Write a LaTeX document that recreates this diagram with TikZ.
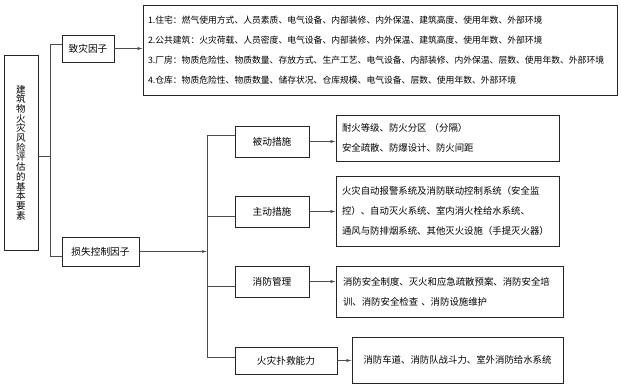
\documentclass[tikz,border=0pt]{standalone}
\usepackage{fontspec}
\setmainfont{Noto Sans CJK SC}
\usetikzlibrary{arrows.meta}
\begin{document}
\begin{tikzpicture}[x=1pt,y=-1pt,
  box/.style={draw=black!85, line width=0.6pt, inner sep=0pt},
  lbl/.style={box, font=\fontsize{9.7}{11}\selectfont, align=center},
  txt/.style={box, font=\fontsize{9.4}{20}\selectfont, align=left},
  conn/.style={draw=black!70, line width=0.5pt},
  arr/.style={conn, -{Latex[length=5pt,width=2.8pt]}}]
\useasboundingbox (0,0) rectangle (621,386);
% left title
\node[box, minimum width=34pt, minimum height=195pt, font=\fontsize{9.5}{9.7}\selectfont, align=center] (title) at (21,152.5)
  {建\\筑\\物\\火\\灾\\风\\险\\评\\估\\的\\基\\本\\要\\素};
% first level
\node[lbl, minimum width=52pt, minimum height=27pt] (zz) at (88,48.5) {致灾因子};
\node[lbl, minimum width=77pt, minimum height=29pt] (ss) at (100.5,251.5) {损失控制因子};
% list box
\node[box, text width=464pt, inner xsep=5pt, minimum height=90pt, align=left, font=\fontsize{8.8}{20}\selectfont] (list) at (380,50)
  {1.住宅：燃气使用方式、人员素质、电气设备、内部装修、内外保温、建筑高度、使用年数、外部环境\\
   2.公共建筑：火灾荷载、人员密度、电气设备、内部装修、内外保温、建筑高度、使用年数、外部环境\\
   3.厂房：物质危险性、物质数量、存放方式、生产工艺、电气设备、内部装修、内外保温、层数、使用年数、外部环境\\
   4.仓库：物质危险性、物质数量、储存状况、仓库规模、电气设备、层数、使用年数、外部环境};
% second level
\node[lbl, minimum width=74pt, minimum height=31pt] (bd) at (272,141.5) {被动措施};
\node[lbl, minimum width=74pt, minimum height=31pt] (zd) at (272,211.5) {主动措施};
\node[lbl, minimum width=74pt, minimum height=31pt] (xf) at (272,281.5) {消防管理};
\node[lbl, minimum width=102pt, minimum height=27pt] (hz) at (286,360.5) {火灾扑救能力};
% result boxes
\node[txt, text width=211pt, inner xsep=6pt, minimum height=46pt] (r1) at (447.5,138)
  {耐火等级、防火分区 （分隔）\\安全疏散、防爆设计、防火间距};
\node[txt, text width=211pt, inner xsep=6pt, minimum height=70pt] (r2) at (447.5,211)
  {火灾自动报警系统及消防联动控制系统（安全监\\控）、自动灭火系统、室内消火栓给水系统、\\通风与防排烟系统、其他灭火设施（手提灭火器）};
\node[txt, text width=213pt, inner xsep=7pt, minimum height=51pt] (r3) at (449.5,291.5)
  {消防安全制度、灭火和应急疏散预案、消防安全培\\训、消防安全检查 、消防设施维护};
\node[box, font=\fontsize{9.4}{20}\selectfont, minimum width=211pt, minimum height=46pt] (r4) at (457.5,360)
  {消防车道、消防队战斗力、室外消防给水系统};
% connectors
\coordinate (ja) at (50,44);
\coordinate (jt) at (50,156);
\coordinate (jb) at (50,256);
\draw[conn] (title.east |- jt) -- (jt);
\draw[conn] (zz.west |- ja) -- (ja) -- (jb) -- (ss.west |- jb);
\draw[arr] (zz.east) -- (zz.east -| list.west);
\coordinate (k1) at (207,135);
\coordinate (k2) at (207,216.5);
\coordinate (k3) at (207,286.5);
\coordinate (k4) at (207,357);
\draw[conn] (bd.west |- k1) -- (k1) -- (k4) -- (hz.west |- k4);
\draw[conn] (k2) -- (zd.west |- k2);
\draw[conn] (k3) -- (xf.west |- k3);
\draw[arr] (ss.east) -- (ss.east -| k1);
\draw[arr] (bd.east) -- (bd.east -| r1.west);
\draw[arr] (zd.east) -- (zd.east -| r2.west);
\draw[arr] (xf.east) -- (xf.east -| r3.west);
\draw[arr] (hz.east) -- (hz.east -| r4.west);
\end{tikzpicture}
\end{document}
